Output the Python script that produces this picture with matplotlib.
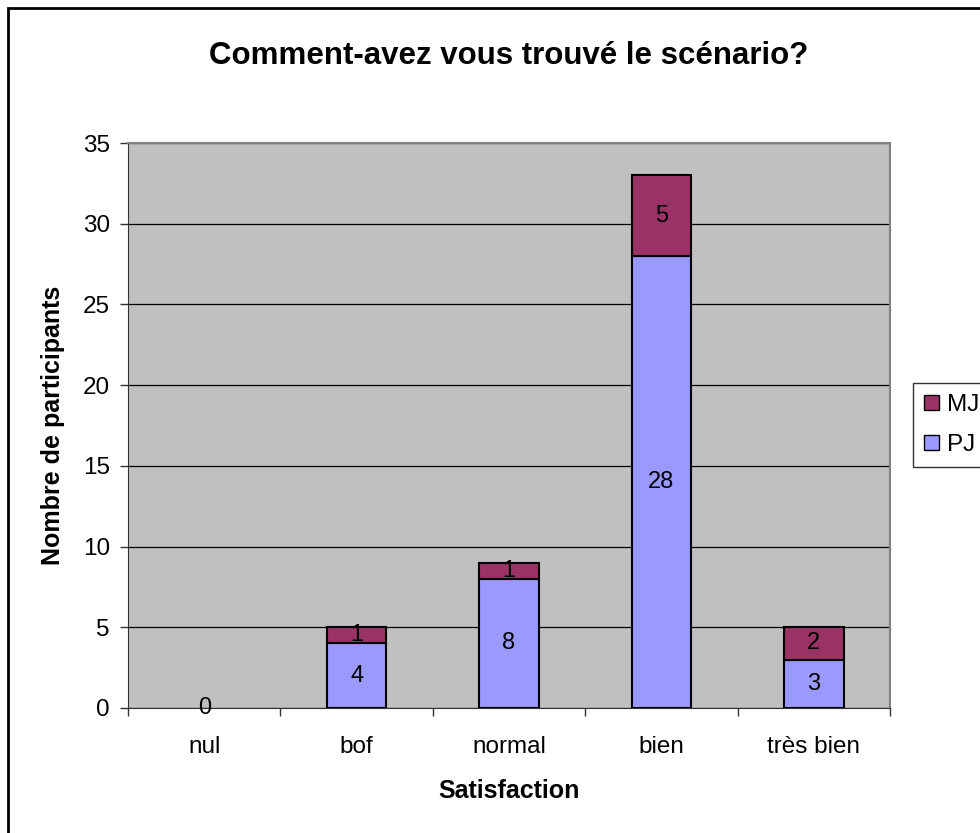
import numpy as np
import matplotlib.pyplot as plt
from matplotlib.patches import Rectangle, Patch

plt.rcParams['font.family'] = ['Liberation Sans', 'DejaVu Sans']

# data
categories = ['nul', 'bof', 'normal', 'bien', 'très bien']
pj = [0, 4, 8, 28, 3]
mj = [0, 1, 1, 5, 2]
yticks = [0, 5, 10, 15, 20, 25, 30, 35]

fig = plt.figure(figsize=(9.8, 8.33), dpi=100)
ax = fig.add_axes([128/980, 1 - 708/833, 762/980, 565/833])
ax.set_facecolor('#C0C0C0')

x = np.arange(len(categories))
w = 0.39
b1 = ax.bar(x, pj, w, color='#9999FF', edgecolor='black',
            linewidth=[0 if v == 0 else 1.5 for v in pj], zorder=3, label='PJ')
b2 = ax.bar(x, mj, w, bottom=pj, color='#993366', edgecolor='black',
            linewidth=[0 if v == 0 else 1.5 for v in mj], zorder=3, label='MJ')

# labels in segments
for i in range(len(categories)):
    ax.text(x[i], pj[i] / 2, str(pj[i]), ha='center', va='center', fontsize=17, zorder=4)
    if mj[i] > 0:
        ax.text(x[i], pj[i] + mj[i] / 2, str(mj[i]), ha='center', va='center', fontsize=17, zorder=4)

ax.set_xlim(-0.5, len(categories) - 0.5)
ax.set_ylim(0, 35)
ax.set_yticks(yticks)
ax.yaxis.grid(True, color='black', linewidth=0.9, zorder=1)
ax.set_axisbelow(True)

ax.set_xticks(x)
ax.set_xticklabels(categories, fontsize=17.5)
ax.set_xticks(np.arange(-0.5, len(categories)), minor=True)
ax.tick_params(axis='x', which='major', length=0, pad=20)
ax.tick_params(axis='x', which='minor', length=6, width=1, color='#333333', direction='out')
ax.tick_params(axis='y', labelsize=17.5, length=6, width=1, color='#333333', pad=7)

for s in ['top', 'right']:
    ax.spines[s].set_color('#808080')
    ax.spines[s].set_linewidth(1.5)
ax.spines['left'].set_color('#333333')
ax.spines['bottom'].set_color('#333333')

ax.set_xlabel('Satisfaction', fontsize=18, fontweight='bold', labelpad=15)
ax.set_ylabel('Nombre de participants', fontsize=18, fontweight='bold', labelpad=13)
ax.set_title('Comment-avez vous trouvé le scénario?', fontsize=22.5, fontweight='bold', pad=57)

# legend
handles = [Patch(facecolor='#993366', edgecolor='black'), Patch(facecolor='#9999FF', edgecolor='black')]
leg = fig.legend(handles, ['MJ', 'PJ'], loc='upper left', bbox_to_anchor=(913/980, 1 - 383/833),
                 fontsize=17.5, frameon=True, fancybox=False, edgecolor='black',
                 handlelength=0.6, handleheight=0.6, handletextpad=0.35, borderpad=0.45,
                 labelspacing=0.75, borderaxespad=0)
leg.get_frame().set_linewidth(1.0)

# outer frame
fig.patches.append(Rectangle((8/980, -0.01), 1.0, 1 - 8/833 + 0.01, transform=fig.transFigure,
                             fill=False, edgecolor='black', linewidth=2))

fig.savefig('out.png', dpi=100)
